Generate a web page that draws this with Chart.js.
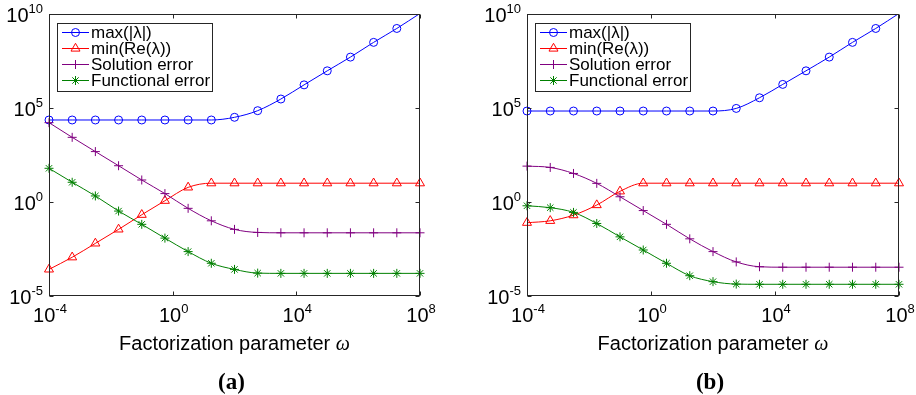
<!DOCTYPE html>
<html>
<head>
<meta charset="utf-8">
<script src="https://cdn.jsdelivr.net/npm/chart.js@4.4.1/dist/chart.umd.min.js"></script>
<style>
  html, body { margin: 0; padding: 0; background: #fff; }
  #wrap { position: relative; width: 916px; height: 395px; }
  #wrap canvas { position: absolute; top: 0; }
</style>
</head>
<body>
<div id="wrap">
  <canvas id="chart-a" width="458" height="395" style="left:0"></canvas>
  <canvas id="chart-b" width="458" height="395" style="left:458px"></canvas>
</div>
<script>
// sampled omega values (log-spaced, 0.75 decade apart)
const OMEGA = [1e-4, 5.62e-4, 3.16e-3, 1.78e-2, 1e-1, 5.62e-1, 3.16, 17.8, 100,
               562, 3162, 17780, 1e5, 5.62e5, 3.16e6, 1.78e7, 1e8];

const X_TICKS = [1e-4, 1e0, 1e4, 1e8];
const Y_TICKS = [1e-5, 1e0, 1e5, 1e10];

const SERIES_NAMES = ['max(|\u03bb|)', 'min(Re(\u03bb))', 'Solution error', 'Functional error'];
const PANEL_LABELS = ['(a)', '(b)'];
const X_TITLE = 'Factorization parameter';
const X_SYMBOL = '\u03c9';

// panel (a)
const MAX_EIG_A = [2.3e4, 2.3e4, 2.3e4, 2.3e4, 2.3e4, 2.3e4, 2.3e4, 2.3e4, 3.2e4,
                   7.2e4, 3.0e5, 1.7e6, 9.5e6, 5.1e7, 3.1e8, 1.7e9, 1.07e10];
const MIN_RE_A  = [2.6e-4, 1.15e-3, 6.3e-3, 3.5e-2, 0.21, 1.17, 6.0, 10, 10,
                   10, 10, 10, 10, 10, 10, 10, 10];
const SOL_ERR_A = [1.66e4, 2.75e3, 480, 85, 14.8, 2.8, 0.46, 0.10, 3.5e-2,
                   2.4e-2, 2.3e-2, 2.3e-2, 2.3e-2, 2.3e-2, 2.3e-2, 2.3e-2, 2.3e-2];
const FUN_ERR_A = [62, 11.2, 2.1, 0.33, 6.5e-2, 1.2e-2, 2.3e-3, 5.5e-4, 2.6e-4,
                   1.65e-4, 1.6e-4, 1.6e-4, 1.6e-4, 1.6e-4, 1.6e-4, 1.6e-4, 1.6e-4];

// panel (b)
const MAX_EIG_B = [6.9e4, 6.9e4, 6.9e4, 6.9e4, 6.9e4, 6.9e4, 6.9e4, 6.9e4, 6.9e4,
                   9.5e4, 3.5e5, 1.8e6, 9.5e6, 5.1e7, 3.1e8, 1.7e9, 1.07e10];
const MIN_RE_B  = [7.9e-2, 0.10, 0.20, 0.69, 3.7, 10, 10, 10, 10,
                   10, 10, 10, 10, 10, 10, 10, 10];
const SOL_ERR_B = [81, 69, 33, 9.8, 1.9, 0.35, 6.5e-2, 1.1e-2, 2.3e-3,
                   6.5e-4, 3.6e-4, 3.4e-4, 3.4e-4, 3.4e-4, 3.4e-4, 3.4e-4, 3.4e-4];
const FUN_ERR_B = [0.63, 0.50, 0.28, 7.2e-2, 1.4e-2, 2.8e-3, 5.5e-4, 1.2e-4, 5.8e-5,
                   4.3e-5, 4.2e-5, 4.2e-5, 4.2e-5, 4.2e-5, 4.2e-5, 4.2e-5, 4.2e-5];

const X_MIN = 1e-4, X_MAX = 1e8, Y_MIN = 1e-5, Y_MAX = 1e10;

const STYLES = [
    { color: '#0000ff', marker: 'circle', r: 4 },
    { color: '#ff0000', marker: 'triangle', r: 5.2 },
    { color: '#800080', marker: 'cross', r: 4.5 },
    { color: '#008000', marker: 'star', r: 4.5 }
];

const AXIS_COLOR = '#262626';
const SANS = '"Liberation Sans", Arial, sans-serif';
const SERIF = '"Liberation Serif", "Times New Roman", serif';

function drawMarker(ctx, marker, x, y, r) {
    ctx.beginPath();
    if (marker === 'circle') {
        ctx.arc(x, y, r, 0, Math.PI * 2);
    } else if (marker === 'triangle') {
        ctx.moveTo(x, y - r);
        ctx.lineTo(x + r * 0.866, y + r / 2);
        ctx.lineTo(x - r * 0.866, y + r / 2);
        ctx.closePath();
    } else {
        ctx.moveTo(x - r, y); ctx.lineTo(x + r, y);
        ctx.moveTo(x, y - r); ctx.lineTo(x, y + r);
        if (marker === 'star') {
            const d = r * Math.SQRT1_2;
            ctx.moveTo(x - d, y - d); ctx.lineTo(x + d, y + d);
            ctx.moveTo(x - d, y + d); ctx.lineTo(x + d, y - d);
        }
    }
    ctx.stroke();
}

// "10" with a raised exponent
function drawPow(ctx, value, x, y, align) {
    const exp = String(Math.round(Math.log10(value)));
    ctx.font = '20px ' + SANS;
    const wb = ctx.measureText('10').width;
    ctx.font = '13px ' + SANS;
    const we = ctx.measureText(exp).width;
    const left = align === 'center' ? x - (wb + we) / 2 : x - wb - we;
    ctx.font = '20px ' + SANS;
    ctx.fillText('10', left, y);
    ctx.font = '13px ' + SANS;
    ctx.fillText(exp, left + wb, y - 9);
}

// box axes with inward ticks, labels, title and legend
const framePlugin = {
    id: 'frame',
    afterDraw(chart, args, opts) {
        const { ctx, chartArea: a, scales: { x, y } } = chart;
        const L = Math.round(a.left) + 0.5, R = Math.round(a.right) - 0.5;
        const T = Math.round(a.top) + 0.5, B = Math.round(a.bottom) - 0.5;
        ctx.save();
        ctx.strokeStyle = AXIS_COLOR;
        ctx.lineWidth = 1;
        ctx.strokeRect(L, T, R - L, B - T);

        ctx.beginPath();
        X_TICKS.forEach(v => {
            const px = Math.round(x.getPixelForValue(v)) + 0.5;
            ctx.moveTo(px, B); ctx.lineTo(px, B - 4);
            ctx.moveTo(px, T); ctx.lineTo(px, T + 4);
        });
        Y_TICKS.forEach(v => {
            const py = Math.round(y.getPixelForValue(v)) + 0.5;
            ctx.moveTo(L, py); ctx.lineTo(L + 4, py);
            ctx.moveTo(R, py); ctx.lineTo(R - 4, py);
        });
        ctx.stroke();

        ctx.fillStyle = '#000';
        ctx.textAlign = 'left';
        ctx.textBaseline = 'alphabetic';
        X_TICKS.forEach(v => drawPow(ctx, v, x.getPixelForValue(v) + 1, a.bottom + 26, 'center'));
        Y_TICKS.forEach(v => drawPow(ctx, v, a.left - 6, y.getPixelForValue(v) + 8, 'right'));

        // axis title
        const cx = (a.left + a.right) / 2;
        ctx.font = '20px ' + SANS;
        const wt = ctx.measureText(X_TITLE + ' ').width;
        ctx.font = 'italic 20px ' + SERIF;
        const ws = ctx.measureText(X_SYMBOL).width;
        const tx = cx - (wt + ws) / 2;
        ctx.font = '20px ' + SANS;
        ctx.fillText(X_TITLE, tx, a.bottom + 54);
        ctx.font = 'italic 20px ' + SERIF;
        ctx.fillText(X_SYMBOL, tx + wt, a.bottom + 54);

        // panel label
        ctx.font = 'bold 23px ' + SERIF;
        ctx.textAlign = 'center';
        ctx.fillText(opts.panel, cx - 3, a.bottom + 93);

        // legend
        const lx = a.left + 8, ly = a.top + 9;
        ctx.fillStyle = '#fff';
        ctx.fillRect(lx, ly, 155, 68);
        ctx.strokeStyle = AXIS_COLOR;
        ctx.strokeRect(Math.round(lx) + 0.5, Math.round(ly) + 0.5, 155, 68);
        ctx.textAlign = 'left';
        ctx.font = '17px ' + SANS;
        chart.data.datasets.forEach((ds, i) => {
            const st = STYLES[i];
            const ry = ly + 9 + i * 16;
            ctx.strokeStyle = st.color;
            ctx.lineWidth = 1;
            ctx.beginPath();
            ctx.moveTo(lx + 5, ry + 0.5); ctx.lineTo(lx + 32, ry + 0.5);
            ctx.stroke();
            drawMarker(ctx, st.marker, lx + 18.5, ry + 0.5, st.r);
            ctx.fillStyle = '#000';
            ctx.fillText(ds.label, lx + 34, ry + 6);
        });
        ctx.restore();
    }
};

function buildChart(id, series, padding, panel) {
    const datasets = series.map((vals, i) => ({
        label: SERIES_NAMES[i],
        data: OMEGA.map((w, k) => ({ x: w, y: vals[k] })),
        borderColor: STYLES[i].color,
        backgroundColor: 'rgba(0,0,0,0)',
        borderWidth: 1,
        pointStyle: STYLES[i].marker,
        // markers outside the axes are not drawn
        pointRadius: c => (c.raw && c.raw.y > Y_MAX ? 0 : STYLES[i].r),
        pointBorderWidth: 1,
        pointBorderColor: STYLES[i].color,
        pointBackgroundColor: 'rgba(0,0,0,0)',
        cubicInterpolationMode: 'monotone',
        clip: { left: 10, right: 10, top: 0, bottom: 10 },
        order: series.length - i
    }));

    return new Chart(document.getElementById(id), {
        type: 'line',
        data: { datasets },
        options: {
            responsive: false,
            animation: false,
            devicePixelRatio: 1,
            layout: { padding },
            scales: {
                x: { type: 'logarithmic', min: X_MIN, max: X_MAX, display: false },
                y: { type: 'logarithmic', min: Y_MIN, max: Y_MAX, display: false }
            },
            plugins: {
                legend: { display: false },
                tooltip: { enabled: false },
                frame: { panel }
            }
        },
        plugins: [framePlugin]
    });
}

buildChart('chart-a', [MAX_EIG_A, MIN_RE_A, SOL_ERR_A, FUN_ERR_A],
    { left: 49, right: 38, top: 14, bottom: 99 }, PANEL_LABELS[0]);
buildChart('chart-b', [MAX_EIG_B, MIN_RE_B, SOL_ERR_B, FUN_ERR_B],
    { left: 69, right: 17, top: 14, bottom: 99 }, PANEL_LABELS[1]);
</script>
</body>
</html>
